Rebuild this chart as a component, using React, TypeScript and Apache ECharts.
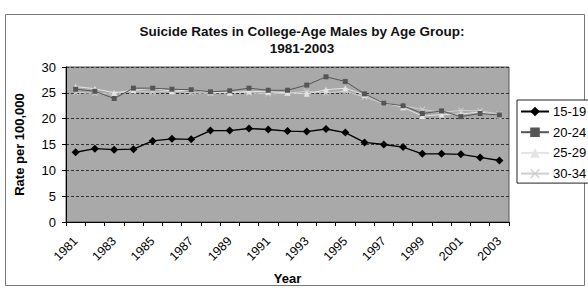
import React, { useEffect, useRef } from "react";
import * as echarts from "echarts";

const years: string[] = [
  "1981", "1982", "1983", "1984", "1985", "1986", "1987", "1988", "1989", "1990",
  "1991", "1992", "1993", "1994", "1995", "1996", "1997", "1998", "1999", "2000",
  "2001", "2002", "2003",
];

const ages15to19: number[] = [
  13.5, 14.2, 14.0, 14.1, 15.7, 16.1, 16.0, 17.7, 17.7, 18.1,
  17.9, 17.6, 17.5, 18.0, 17.3, 15.4, 15.0, 14.5, 13.2, 13.2,
  13.1, 12.5, 11.9,
];

const ages20to24: number[] = [
  25.7, 25.3, 23.9, 25.9, 25.9, 25.7, 25.6, 25.2, 25.4, 25.9,
  25.5, 25.5, 26.5, 28.1, 27.2, 24.8, 23.0, 22.5, 21.0, 21.5,
  20.4, 21.0, 20.7,
];

const ages25to29: number[] = [
  26.2, 25.8, 25.0, 25.5, 25.9, 25.3, 25.6, 25.1, 25.0, 25.3,
  25.2, 25.0, 24.8, 25.6, 25.9, 24.6, 23.1, 22.2, 20.5, 20.8,
  20.9, 21.3, 20.6,
];

const ages30to34: number[] = [
  25.1, 24.9, 24.8, 25.4, 25.1, 25.4, 25.0, 24.9, 25.2, 25.0,
  24.8, 24.9, 25.3, 25.0, 25.3, 24.2, 22.9, 22.5, 21.8, 21.2,
  21.6, 21.5, 20.9,
];

const FONT = 'Arial, "Liberation Sans", sans-serif';
const CROSS =
  "path://M1,0L5,4L9,0L10,1L6,5L10,9L9,10L5,6L1,10L0,9L4,5L0,1Z";

export default function App() {
  const ref = useRef<HTMLDivElement>(null);

  useEffect(() => {
    if (!ref.current) return;
    const chart = echarts.init(ref.current, null, { renderer: "svg" });

    chart.setOption({
      animation: false,
      backgroundColor: "#ffffff",
      textStyle: { fontFamily: FONT, color: "#000" },
      title: {
        text: "Suicide Rates in College-Age Males by Age Group:\n1981-2003",
        left: 297,
        textAlign: "center",
        top: 18,
        textStyle: {
          fontFamily: FONT,
          fontSize: 13.5,
          fontWeight: "bold",
          color: "#111",
          lineHeight: 17,
        },
      },
      graphic: [
        {
          type: "rect",
          shape: { x: 5.5, y: 14.5, width: 579, height: 271 },
          style: { fill: "none", stroke: "#777", lineWidth: 1 },
          silent: true,
        },
      ],
      legend: {
        orient: "vertical",
        left: 517,
        top: 100,
        padding: [5, 3, 3, 3],
        itemWidth: 28,
        itemHeight: 12,
        itemGap: 7.7,
        borderColor: "#222",
        borderWidth: 1,
        backgroundColor: "#fff",
        textStyle: { fontFamily: FONT, fontSize: 13, color: "#000", padding: [0, 0, 0, -1] },
        data: ["15-19", "20-24", "25-29", "30-34"],
      },
      grid: {
        left: 66,
        right: 79,
        top: 67,
        bottom: 75,
        show: true,
        backgroundColor: "#a9a9a9",
        borderColor: "#555",
        borderWidth: 1,
      },
      xAxis: {
        type: "category",
        data: years,
        boundaryGap: true,
        name: "Year",
        nameLocation: "middle",
        nameGap: 50,
        nameTextStyle: { fontFamily: FONT, fontSize: 13, fontWeight: "bold", color: "#000" },
        axisLine: { lineStyle: { color: "#000", width: 1 } },
        axisTick: { show: true, interval: 0, length: 4, lineStyle: { color: "#000" } },
        axisLabel: {
          interval: 1,
          rotate: 45,
          margin: 17,
          fontFamily: FONT,
          fontSize: 12.5,
          color: "#000",
        },
        splitLine: { show: false },
      },
      yAxis: {
        type: "value",
        min: 0,
        max: 30,
        interval: 5,
        name: "Rate per 100,000",
        nameLocation: "middle",
        nameGap: 40,
        nameRotate: 90,
        nameTextStyle: { fontFamily: FONT, fontSize: 13, fontWeight: "bold", color: "#000" },
        axisLine: { show: true, lineStyle: { color: "#000", width: 1 } },
        axisTick: { show: true, length: 4, lineStyle: { color: "#000" } },
        axisLabel: { fontFamily: FONT, fontSize: 13, color: "#000", margin: 10 },
        splitLine: {
          show: true,
          lineStyle: { color: "#333", width: 1, type: [3, 2] },
        },
      },
      series: [
        {
          name: "30-34",
          type: "line",
          data: ages30to34,
          symbol: CROSS,
          symbolSize: 6,
          itemStyle: { color: "#cfcfcf" },
          lineStyle: { color: "#cfcfcf", width: 1 },
          z: 2,
        },
        {
          name: "25-29",
          type: "line",
          data: ages25to29,
          symbol: "triangle",
          symbolSize: 6,
          itemStyle: { color: "#e4e4e4" },
          lineStyle: { color: "#e4e4e4", width: 1 },
          z: 3,
        },
        {
          name: "20-24",
          type: "line",
          data: ages20to24,
          symbol: "rect",
          symbolSize: 5,
          itemStyle: { color: "#555" },
          lineStyle: { color: "#555", width: 1 },
          z: 4,
        },
        {
          name: "15-19",
          type: "line",
          data: ages15to19,
          symbol: "diamond",
          symbolSize: 8,
          itemStyle: { color: "#000" },
          lineStyle: { color: "#000", width: 1.3 },
          z: 5,
        },
      ],
    });

    return () => chart.dispose();
  }, []);

  return (
    <div
      ref={ref}
      style={{ position: "fixed", left: 0, top: 0, width: 588, height: 297 }}
    />
  );
}
